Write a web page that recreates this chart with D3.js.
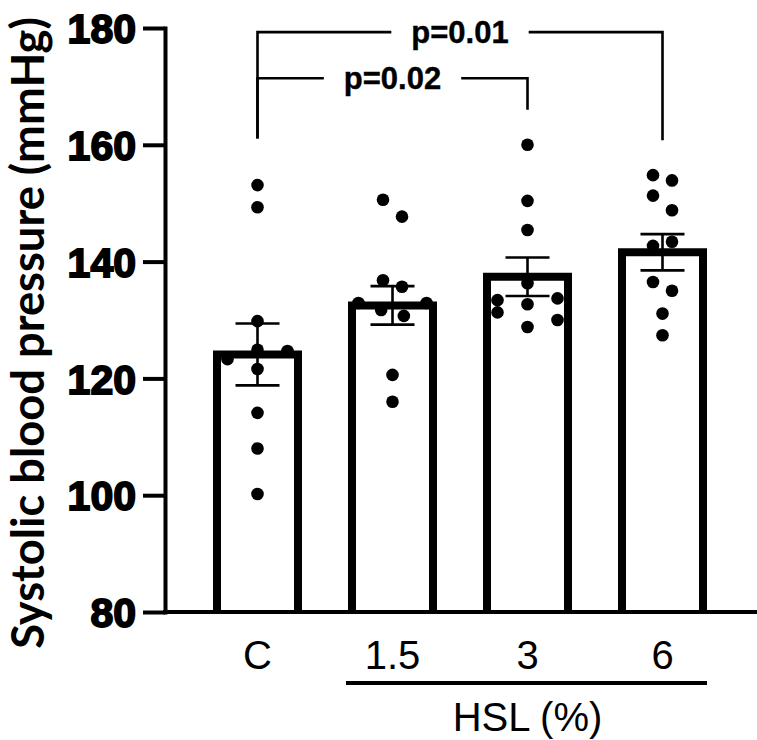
<!DOCTYPE html>
<html>
<head>
<meta charset="utf-8">
<script src="https://cdn.jsdelivr.net/npm/d3@7"></script>
<style>
  html, body { margin: 0; padding: 0; background: #fff; }
  svg { display: block; }
</style>
</head>
<body>
<svg id="chart" width="757" height="740"></svg>
<script>
// ---------------- data ----------------
const categories = ["C", "1.5", "3", "6"];
const meanValues = [124.1, 132.5, 137.4, 141.6];
const semValues  = [5.3, 3.3, 3.3, 3.1];
const dotsC   = [153.1, 149.3, 129.8, 123.3, 124.9, 124.7, 121.6, 114.1, 108.0, 100.2];
const dots1_5 = [150.6, 147.7, 136.8, 135.7, 132.9, 131.7, 130.7, 132.9, 120.6, 116.0];
const dots3   = [160.0, 150.4, 145.4, 133.4, 136.3, 133.7, 131.3, 132.7, 130.0, 128.8];
const dots6   = [154.8, 153.9, 151.3, 148.8, 142.7, 143.4, 136.5, 135.0, 131.1, 127.4];
const groupDots = [dotsC, dots1_5, dots3, dots6];
const yTicks = [80, 100, 120, 140, 160, 180];
const compFrom   = ["C", "C"];
const compTo     = ["3", "6"];
const compLevel  = [171.4, 179.3];
const compLabels = ["p=0.02", "p=0.01"];
const yTitle = "Systolic blood pressure (mmHg)";
const groupTitle = "HSL (%)";

// ---------------- layout ----------------
const svg = d3.select("#chart");
const W = 757;
const axisX = 165;
const y = d3.scaleLinear().domain([80, 180]).range([612, 28]);
const x = d3.scaleBand().domain(categories).range([190, 730])
  .paddingInner(0.4).paddingOuter(0.2);
const bw = x.bandwidth();
const cx = c => x(c) + bw / 2;

// bars (outline without bottom edge)
const barData = categories.map((c, i) => ({c, m: meanValues[i], s: semValues[i], dots: groupDots[i]}));
svg.append("g").selectAll("path").data(barData).join("path")
  .attr("d", d => `M${x(d.c)},${y(80)}V${y(d.m)}H${x(d.c) + bw}V${y(80)}`)
  .attr("fill", "#fff").attr("stroke", "#000").attr("stroke-width", 8)
  .attr("stroke-linejoin", "miter");

// error bars
const eg = svg.append("g").attr("stroke", "#000").attr("stroke-width", 2.6);
barData.forEach(d => {
  eg.append("line").attr("x1", cx(d.c)).attr("x2", cx(d.c))
    .attr("y1", y(d.m - d.s)).attr("y2", y(d.m + d.s));
  [d.m - d.s, d.m + d.s].forEach(v => {
    eg.append("line").attr("x1", cx(d.c) - 22).attr("x2", cx(d.c) + 22)
      .attr("y1", y(v)).attr("y2", y(v));
  });
});

// dot layout: cluster into rows by vertical proximity, spread symmetrically
function swarm(values) {
  const minGap = 18;
  const order = values.map((v, i) => i).sort((a, b) => values[b] - values[a]);
  const rows = [];
  let cur = null;
  order.forEach(i => {
    const py = y(values[i]);
    if (cur && py - cur.start < minGap) cur.items.push(i);
    else { cur = {start: py, items: [i]}; rows.push(cur); }
  });
  const off = new Array(values.length).fill(0);
  rows.forEach(r => {
    const items = r.items.slice().sort((a, b) => a - b);
    const n = items.length;
    const s = n === 3 ? 30 : (n === 2 ? 19 : 22.7);
    items.forEach((i, k) => { off[i] = (k - (n - 1) / 2) * s; });
  });
  return off;
}
const dg = svg.append("g");
barData.forEach(d => {
  const off = swarm(d.dots);
  dg.selectAll(null).data(d.dots).join("circle")
    .attr("cx", (v, i) => cx(d.c) + off[i])
    .attr("cy", v => y(v))
    .attr("r", 6.3).attr("fill", "#000");
});

// y axis
const yAxis = svg.append("g").attr("transform", `translate(${axisX},0)`)
  .call(d3.axisLeft(y).tickValues(yTicks).tickSize(22).tickSizeOuter(0).tickPadding(7));
yAxis.select(".domain").attr("stroke", "#000").attr("stroke-width", 4).attr("stroke-linecap", "square");
yAxis.selectAll(".tick line").attr("stroke", "#000").attr("stroke-width", 4);
yAxis.selectAll(".tick text")
  .attr("font-family", "'Liberation Sans', Arial, sans-serif")
  .attr("font-weight", "bold").attr("font-size", 41)
  .attr("fill", "#000").attr("stroke", "#000").attr("stroke-width", 1.8)
  .attr("dy", "0.36em");

// x baseline
svg.append("line").attr("x1", axisX - 2).attr("x2", W).attr("y1", y(80)).attr("y2", y(80))
  .attr("stroke", "#000").attr("stroke-width", 4);

// x labels
svg.append("g").selectAll("text").data(categories).join("text")
  .attr("x", c => cx(c)).attr("y", 669)
  .attr("text-anchor", "middle")
  .attr("font-family", "'Liberation Sans', Arial, sans-serif")
  .attr("font-size", 40).attr("fill", "#000")
  .text(c => c);

// group line + title
svg.append("line").attr("x1", x("1.5") - 6).attr("x2", x("6") + bw + 4)
  .attr("y1", 683).attr("y2", 683).attr("stroke", "#000").attr("stroke-width", 4);
svg.append("text").attr("x", (x("1.5") + x("6") + bw) / 2).attr("y", 731)
  .attr("text-anchor", "middle")
  .attr("font-family", "'Liberation Sans', Arial, sans-serif")
  .attr("font-size", 40).attr("fill", "#000").text(groupTitle);

// y title
const yt = svg.append("text")
  .attr("transform", "translate(44,333) rotate(-90)")
  .attr("text-anchor", "middle")
  .attr("font-family", "Lato, 'Open Sans', sans-serif")
  .attr("font-weight", "bold").attr("font-size", 40).attr("fill", "#000")
  .text(yTitle);
const targetLen = 632;
const len = yt.node().getComputedTextLength();
yt.attr("font-size", 40 * targetLen / len);

// comparison brackets
const bg = svg.append("g");
compLabels.forEach((lab, i) => {
  const xa = cx(compFrom[i]), xb = cx(compTo[i]);
  const ly = y(compLevel[i]);
  const dropA = y(d3.max(groupDots[categories.indexOf(compFrom[i])]) + 8);
  const dropB = y(d3.max(groupDots[categories.indexOf(compTo[i])]) + 6);
  const t = bg.append("text").attr("x", (xa + xb) / 2).attr("y", ly).attr("dy", "0.36em")
    .attr("text-anchor", "middle")
    .attr("font-family", "'Liberation Sans', Arial, sans-serif")
    .attr("font-weight", "bold").attr("font-size", 31).attr("fill", "#000")
    .attr("stroke", "#000").attr("stroke-width", 0.4)
    .text(lab);
  const tw = t.node().getComputedTextLength();
  const gap = tw / 2 + 20;
  const mid = (xa + xb) / 2;
  const st = {stroke: "#000", "stroke-width": 2.6, fill: "none"};
  const p1 = bg.append("path").attr("d", `M${xa},${dropA}V${ly}H${mid - gap}`);
  const p2 = bg.append("path").attr("d", `M${mid + gap},${ly}H${xb}V${dropB}`);
  [p1, p2].forEach(p => Object.entries(st).forEach(([k, v]) => p.attr(k, v)));
});
</script>
</body>
</html>
